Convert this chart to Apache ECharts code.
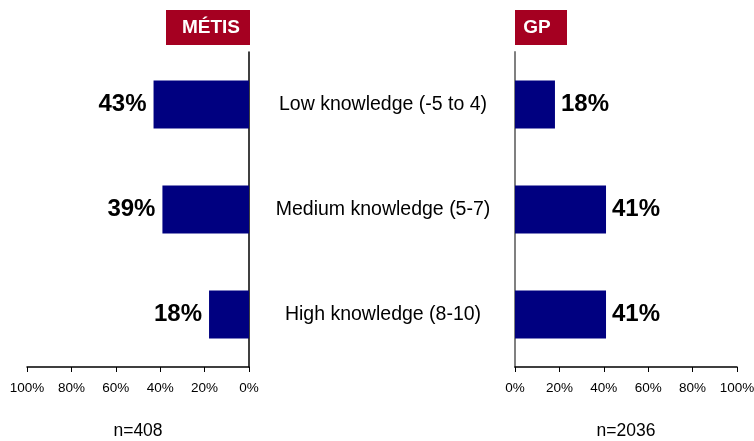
<!DOCTYPE html>
<html><head><meta charset="utf-8">
<script src="https://cdn.jsdelivr.net/npm/echarts@6/dist/echarts.min.js"></script>
<style>html,body{margin:0;padding:0;background:#fff}#c{width:754px;height:441px}</style>
</head><body><div id="c"></div>
<script>
const categories = ['Low knowledge (-5 to 4)', 'Medium knowledge (5-7)', 'High knowledge (8-10)'];
const metisValues = [43, 39, 18];
const gpValues = [18, 41, 41];
const groupNames = ['MÉTIS', 'GP'];
const sampleSizes = ['n=408', 'n=2036'];

const FONT = '"Liberation Sans", Arial, sans-serif';
const chart = echarts.init(document.getElementById('c'));
const axisLabelStyle = {fontFamily: FONT, fontSize: 13.5, color: '#000', margin: 14, formatter: '{value}%'};
chart.setOption({
  animation: false,
  textStyle: {fontFamily: FONT},
  grid: [
    {left: 27, right: 505, top: 52, bottom: 74, containLabel: false, outerBoundsMode: 'none'},
    {left: 515, right: 17, top: 52, bottom: 74, containLabel: false, outerBoundsMode: 'none'}
  ],
  xAxis: [
    {gridIndex: 0, type: 'value', min: 0, max: 100, interval: 20, inverse: true,
     splitLine: {show: false},
     axisLine: {show: true, lineStyle: {color: '#000', width: 1.5}},
     axisTick: {show: true, length: 5, lineStyle: {color: '#000'}},
     axisLabel: axisLabelStyle,
     name: sampleSizes[0], nameLocation: 'middle', nameGap: 55,
     nameTextStyle: {fontFamily: FONT, fontSize: 17.5, color: '#000'}},
    {gridIndex: 1, type: 'value', min: 0, max: 100, interval: 20,
     splitLine: {show: false},
     axisLine: {show: true, lineStyle: {color: '#000', width: 1.5}},
     axisTick: {show: true, length: 5, lineStyle: {color: '#000'}},
     axisLabel: axisLabelStyle,
     name: sampleSizes[1], nameLocation: 'middle', nameGap: 55,
     nameTextStyle: {fontFamily: FONT, fontSize: 17.5, color: '#000'}}
  ],
  yAxis: [
    {gridIndex: 0, type: 'category', data: categories, inverse: true, position: 'right',
     axisLine: {show: true, lineStyle: {color: '#000', width: 1.5}},
     axisTick: {show: false},
     axisLabel: {margin: 134, align: 'center', fontFamily: FONT, fontSize: 19.5, color: '#000'}},
    {gridIndex: 1, type: 'category', data: categories, inverse: true, position: 'left',
     axisLine: {show: true, lineStyle: {color: '#808080', width: 2}},
     axisTick: {show: false},
     axisLabel: {show: false}}
  ],
  series: [
    {type: 'bar', xAxisIndex: 0, yAxisIndex: 0, data: metisValues, barWidth: 48,
     itemStyle: {color: '#000080'},
     label: {show: true, position: 'left', distance: 7, formatter: '{c}%', fontFamily: FONT,
             fontSize: 24, fontWeight: 'bold', color: '#000'}},
    {type: 'bar', xAxisIndex: 1, yAxisIndex: 1, data: gpValues, barWidth: 48,
     itemStyle: {color: '#000080'},
     label: {show: true, position: 'right', distance: 6, formatter: '{c}%', fontFamily: FONT,
             fontSize: 24, fontWeight: 'bold', color: '#000'}}
  ],
  graphic: [
    {type: 'rect', shape: {x: 166, y: 10, width: 84, height: 35}, style: {fill: '#A50021'}},
    {type: 'text', style: {text: groupNames[0], x: 211, y: 28,
      align: 'center', verticalAlign: 'middle', fill: '#fff', font: 'bold 19px ' + FONT}},
    {type: 'rect', shape: {x: 515, y: 10, width: 52, height: 35}, style: {fill: '#A50021'}},
    {type: 'text', style: {text: groupNames[1], x: 537, y: 28,
      align: 'center', verticalAlign: 'middle', fill: '#fff', font: 'bold 19px ' + FONT}}
  ]
});
</script></body></html>
